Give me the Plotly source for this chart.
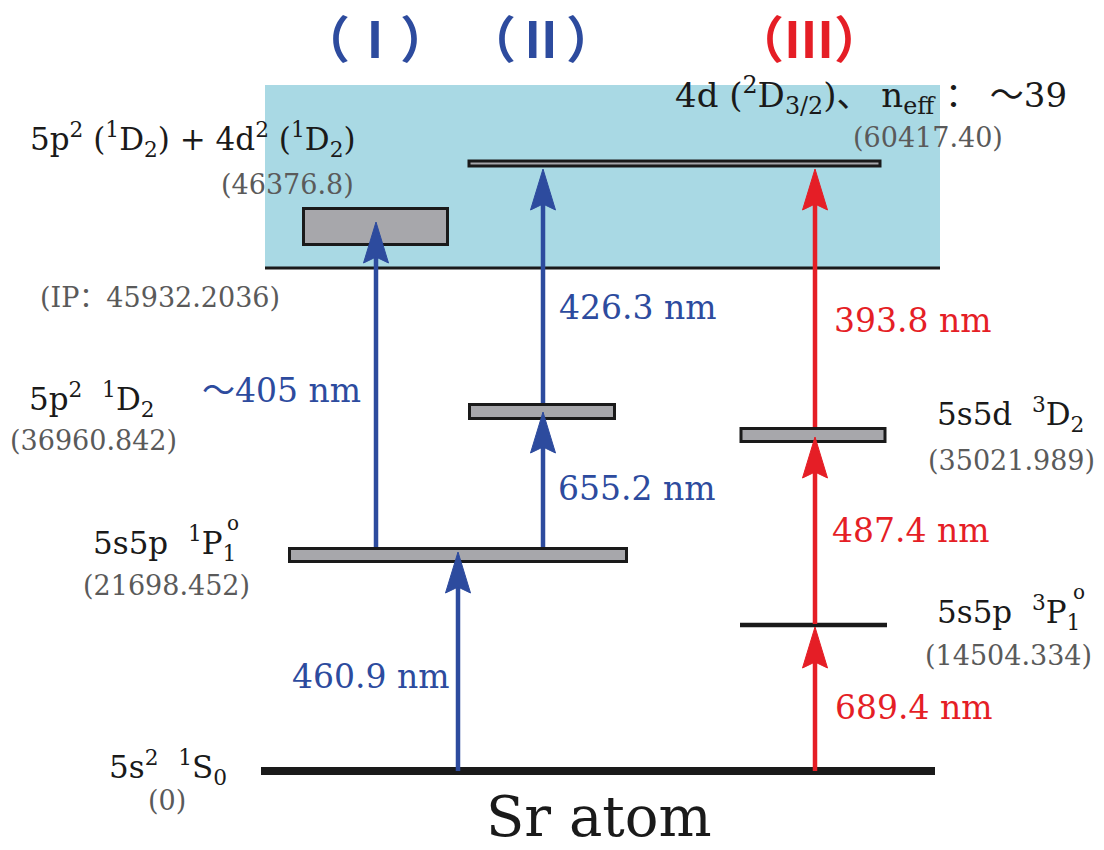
import plotly.graph_objects as go

# ---------------- data ----------------
level_keys = ["g", "3P1", "1P1", "5p2_1D2", "3D2", "IP", "AI", "Ryd"]
level_names = [
    "5s<sup>2</sup>  <sup>1</sup>S<sub>0</sub>",
    "5s5p  <sup>3</sup>P<sub>1</sub>",
    "5s5p  <sup>1</sup>P<sub>1</sub>",
    "5p<sup>2</sup>  <sup>1</sup>D<sub>2</sub>",
    "5s5d  <sup>3</sup>D<sub>2</sub>",
    "",
    "5p<sup>2</sup> (<sup>1</sup>D<sub>2</sub>) + 4d<sup>2</sup> (<sup>1</sup>D<sub>2</sub>)",
    "4d (<sup>2</sup>D<sub>3/2</sub>)、 n<sub>eff</sub> ： ～39",
]
level_parity_odd = [False, True, True, False, False, False, False, False]
level_energy = [0, 14504.334, 21698.452, 36960.842, 35021.989, 45932.2036, 46376.8, 60417.40]
level_decimals = [0, 3, 3, 3, 3, 4, 1, 2]
level_prefix = ["", "", "", "", "", "IP：", "", ""]

scheme_names = ["（Ⅰ）", "（Ⅱ）", "（Ⅲ）"]
trans_scheme = [0, 0, 1, 1, 2, 2, 2]
trans_from = ["g", "1P1", "1P1", "5p2_1D2", "g", "3P1", "3D2"]
trans_to = ["1P1", "AI", "5p2_1D2", "Ryd", "3P1", "3D2", "Ryd"]
trans_wl = [460.9, 405, 655.2, 426.3, 689.4, 487.4, 393.8]
trans_approx = [False, True, False, False, False, False, False]
atom_label = "Sr atom"

# ---------------- layout (schematic canvas units) ----------------
BLUE = "#2D4B9E"
RED = "#E51E26"
CYAN = "#A9D9E4"
GRAYFILL = "#A7A7AB"
GRAYTXT = "#5A5A5A"
BLACK = "#1A1A1A"
scheme_colors = [BLUE, BLUE, RED]

geom = {  # level drawing geometry: kind, x0, x1, y0, y1/width
    "g": ("line", 261, 935, 771, 8),
    "3P1": ("line", 740, 887, 625, 4.5),
    "1P1": ("box", 289.5, 626.5, 548.5, 561.5),
    "5p2_1D2": ("box", 469.5, 614.5, 404.5, 418.5),
    "3D2": ("box", 741, 885, 428.5, 441.5),
    "IP": ("line", 265, 940, 268, 3),
    "AI": ("box", 303.5, 447.5, 208.5, 244.5),
    "Ryd": ("box", 469, 880, 161, 166),
}
continuum = (265, 940, 85, 268)

name_pos = {
    "g": (168, 767), "3P1": (1008, 612), "1P1": (164, 543), "5p2_1D2": (92, 399),
    "3D2": (1010, 414), "AI": (193, 139), "Ryd": (871, 95),
}
name_size = {"Ryd": 34}
parity_pos = {"3P1": (1079, 592), "1P1": (233, 523)}
energy_pos = {
    "g": (167, 800), "3P1": (1008, 655), "1P1": (166, 585), "5p2_1D2": (93, 440),
    "3D2": (1011, 460), "IP": (160, 297), "AI": (287, 184), "Ryd": (928, 137),
}
arrow_x = [458, 376, 543, 543, 815, 815, 815]
arrow_start = {"g": 771, "1P1": 547, "5p2_1D2": 403, "3P1": 624, "3D2": 427}
arrow_tip = {"1P1": 552, "AI": 222, "5p2_1D2": 412, "Ryd": 169, "3P1": 627, "3D2": 437}
wl_pos = [(371, 676), (281, 390), (637, 488), (638, 307), (914, 707), (911, 530), (913, 320)]
scheme_pos = [(375, 36), (541, 36), (809, 36)]

SERIF = "DejaVu Serif, Noto Sans CJK SC, serif"

fig = go.Figure()
shapes = []
annotations = []

# continuum region
shapes.append(dict(type="rect", xref="x", yref="y", x0=continuum[0], x1=continuum[1],
                   y0=continuum[2], y1=continuum[3], fillcolor=CYAN, line=dict(width=0),
                   layer="below"))

# levels
for k in level_keys:
    kind, x0, x1, a, b = geom[k]
    if kind == "line":
        shapes.append(dict(type="line", xref="x", yref="y", x0=x0, x1=x1, y0=a, y1=a,
                           line=dict(color=BLACK, width=b)))
    else:
        shapes.append(dict(type="rect", xref="x", yref="y", x0=x0, x1=x1, y0=a, y1=b,
                           fillcolor=GRAYFILL, line=dict(color=BLACK, width=3)))

# transitions (arrows)
HL, HW, NOTCH = 41, 12.5, 6
for i in range(len(trans_wl)):
    col = scheme_colors[trans_scheme[i]]
    x = arrow_x[i]
    y0 = arrow_start[trans_from[i]]
    yt = arrow_tip[trans_to[i]]
    shapes.append(dict(type="line", xref="x", yref="y", x0=x, x1=x, y0=y0, y1=yt + HL - NOTCH,
                       line=dict(color=col, width=4.5)))
    path = (f"M {x},{yt} L {x + HW},{yt + HL} L {x},{yt + HL - NOTCH} "
            f"L {x - HW},{yt + HL} Z")
    shapes.append(dict(type="path", xref="x", yref="y", path=path, fillcolor=col,
                       line=dict(color=col, width=1)))
    txt = ("～" if trans_approx[i] else "") + f"{trans_wl[i]:g} nm"
    px, py = wl_pos[i]
    annotations.append(dict(x=px, y=py, xref="x", yref="y", text=txt, showarrow=False,
                            xanchor="center", yanchor="middle",
                            font=dict(family=SERIF, size=33, color=col)))

# level names and energies
for j, k in enumerate(level_keys):
    if level_names[j]:
        px, py = name_pos[k]
        annotations.append(dict(x=px, y=py, xref="x", yref="y", text=level_names[j],
                                showarrow=False, xanchor="center", yanchor="middle",
                                font=dict(family=SERIF, size=name_size.get(k, 31),
                                          color=BLACK)))
    if level_parity_odd[j]:
        px, py = parity_pos[k]
        annotations.append(dict(x=px, y=py, xref="x", yref="y", text="o",
                                showarrow=False, xanchor="center", yanchor="middle",
                                font=dict(family=SERIF, size=20, color=BLACK)))
    d = level_decimals[j]
    etxt = f"({level_prefix[j]}{level_energy[j]:.{d}f})"
    px, py = energy_pos[k]
    annotations.append(dict(x=px, y=py, xref="x", yref="y", text=etxt, showarrow=False,
                            xanchor="center", yanchor="middle",
                            font=dict(family=SERIF, size=27, color=GRAYTXT)))

# scheme labels
for s, name in enumerate(scheme_names):
    px, py = scheme_pos[s]
    annotations.append(dict(x=px, y=py, xref="x", yref="y", text=f"<b>{name}</b>",
                            showarrow=False, xanchor="center", yanchor="middle",
                            font=dict(family="Noto Sans CJK SC", size=50,
                                      color=scheme_colors[s])))

annotations.append(dict(x=599, y=0, xref="x", yref="paper", text=atom_label, showarrow=False,
                        xanchor="center", yanchor="bottom", borderpad=0,
                        font=dict(family=SERIF, size=56, color=BLACK)))

fig.update_layout(
    width=1104, height=850,
    margin=dict(l=0, r=0, t=0, b=0),
    paper_bgcolor="white", plot_bgcolor="white",
    xaxis=dict(range=[0, 1104], visible=False, fixedrange=True),
    yaxis=dict(range=[850, 0], visible=False, fixedrange=True),
    shapes=shapes, annotations=annotations, showlegend=False,
)
fig.write_html("out.html")
